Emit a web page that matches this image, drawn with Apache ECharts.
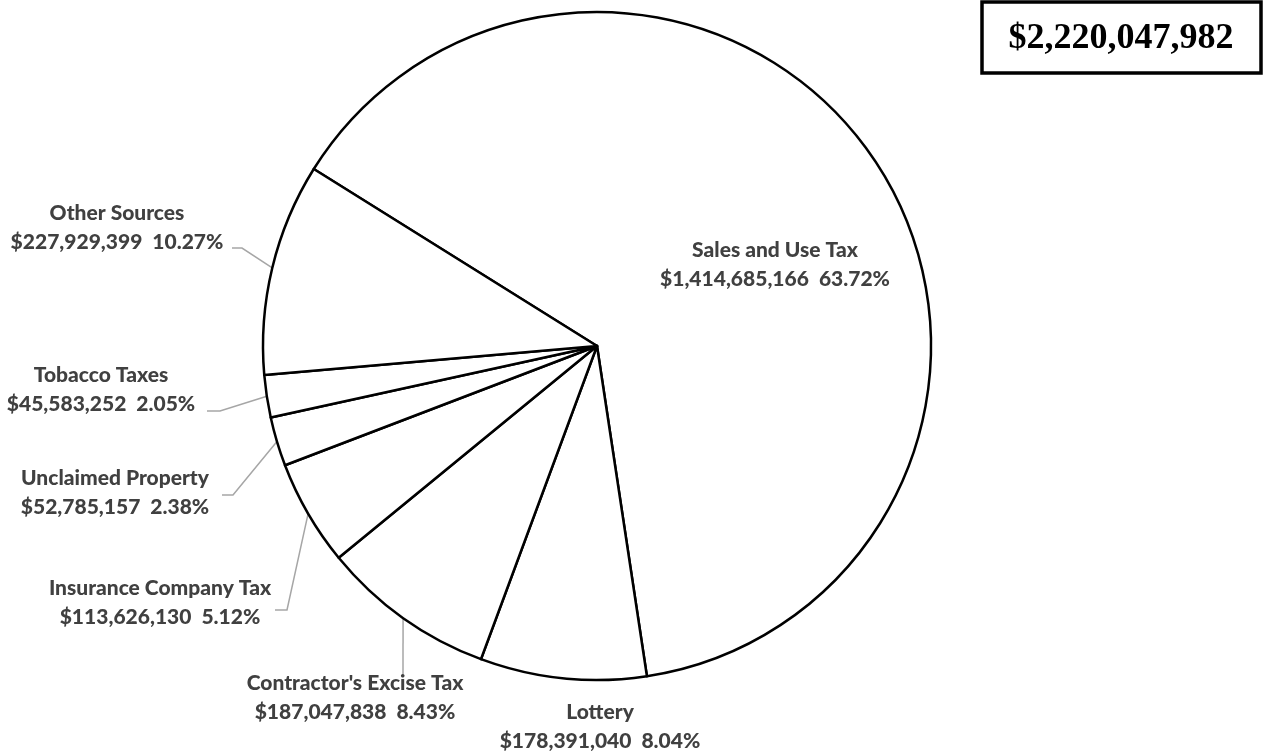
<!DOCTYPE html>
<html>
<head>
<meta charset="utf-8">
<script src="https://cdn.jsdelivr.net/npm/echarts@6/dist/echarts.min.js"></script>
<style>
html,body{margin:0;padding:0;background:#fff;}
#main{width:1265px;height:753px;}
</style>
</head>
<body>
<div id="main"></div>
<script>
// Data
var categories = ["Sales and Use Tax", "Lottery", "Contractor's Excise Tax", "Insurance Company Tax", "Unclaimed Property", "Tobacco Taxes", "Other Sources"];
var values = [1414685166, 178391040, 187047838, 113626130, 52785157, 45583252, 227929399];
var percentLabels = ["63.72%", "8.04%", "8.43%", "5.12%", "2.38%", "2.05%", "10.27%"];

// Label layout (positions of label block centres and label-line bend/end points)
var labelPos = [
  {x: 775, y: 265, line: null},
  {x: 600, y: 727, line: null},
  {x: 355, y: 698, line: [[403, 675], [403, 675]]},
  {x: 160, y: 603, line: [[287, 610], [275, 610]]},
  {x: 115, y: 493, line: [[233, 495], [222, 495]]},
  {x: 101, y: 390, line: [[220, 411], [207, 411]]},
  {x: 117, y: 228, line: [[242, 248], [232, 248]]}
];

function fmtMoney(v) {
  return '$' + v.toString().replace(/\B(?=(\d{3})+(?!\d))/g, ',');
}
var total = values.reduce(function (a, b) { return a + b; }, 0);

var chart = echarts.init(document.getElementById('main'), null, {renderer: 'canvas'});
var seriesData = categories.map(function (c, i) {
  return {
    name: c,
    value: values[i],
    labelLine: {show: !!labelPos[i].line}
  };
});

chart.setOption({
  animation: false,
  backgroundColor: '#ffffff',
  graphic: [
    {
      type: 'rect',
      shape: {x: 982, y: 2, width: 279, height: 71},
      style: {fill: '#ffffff', stroke: '#000000', lineWidth: 3.5}
    },
    {
      type: 'text',
      x: 1121, y: 39,
      style: {
        text: fmtMoney(total),
        font: 'bold 36px "Liberation Serif", "Times New Roman", serif',
        fill: '#000000',
        align: 'center',
        verticalAlign: 'middle'
      }
    }
  ],
  series: [{
    type: 'pie',
    center: [597, 346],
    radius: [0, 334],
    startAngle: 148,
    clockwise: true,
    avoidLabelOverlap: false,
    data: seriesData,
    itemStyle: {color: '#ffffff', borderColor: '#000000', borderWidth: 2.5},
    emphasis: {disabled: true},
    label: {
      show: true,
      position: 'outside',
      formatter: function (p) {
        return p.name + '\n' + fmtMoney(p.value) + '  ' + percentLabels[p.dataIndex];
      },
      fontFamily: 'Lato, "Open Sans", sans-serif',
      fontWeight: 900,
      fontSize: 21,
      lineHeight: 29,
      color: '#404040',
      align: 'center'
    },
    labelLine: {
      show: true,
      lineStyle: {color: '#a6a6a6', width: 1.5}
    },
    labelLayout: function (params) {
      var lp = labelPos[params.dataIndex];
      var res = {x: lp.x, y: lp.y, align: 'center', verticalAlign: 'middle'};
      if (lp.line && params.labelLinePoints) {
        var anchor = params.labelLinePoints[0];
        res.labelLinePoints = [anchor, lp.line[0], lp.line[1]];
      }
      return res;
    }
  }]
});
</script>
</body>
</html>
